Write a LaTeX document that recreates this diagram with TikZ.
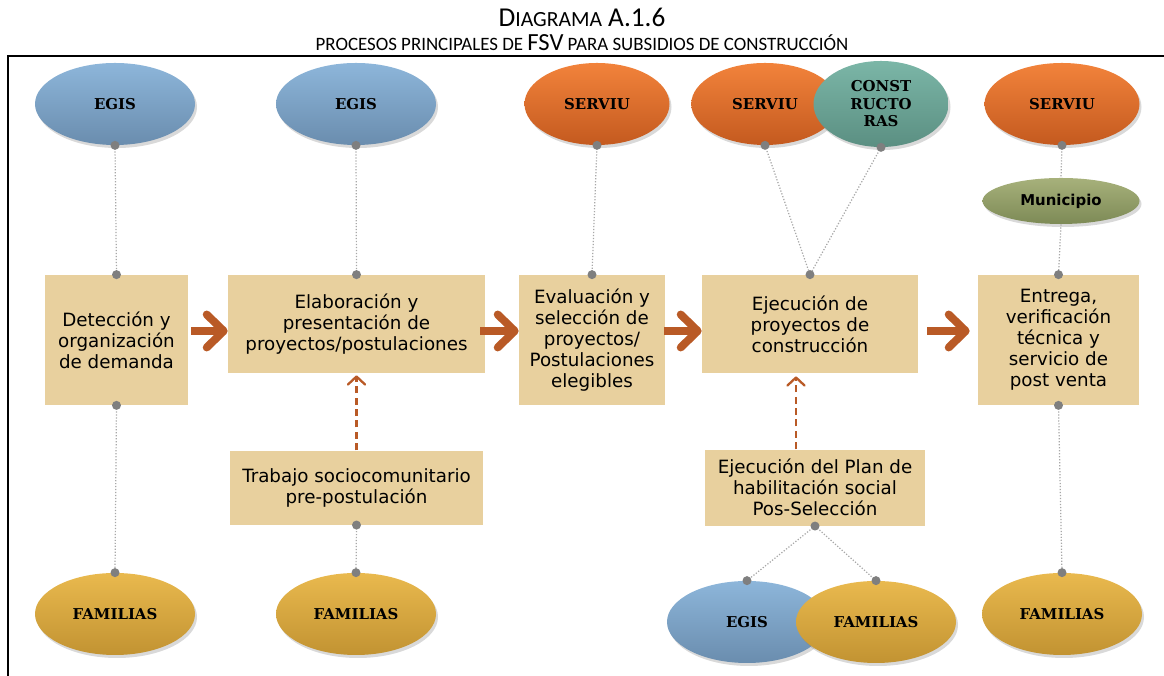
\documentclass[tikz,border=0pt]{standalone}
\usepackage{fontspec}
\setmainfont{DejaVu Sans}
\newfontfamily\labelfont{DejaVu Serif}
\newfontfamily\titlefont{Carlito}
\usepackage{xcolor}
\definecolor{box-tan}{HTML}{E8D09E}
\definecolor{rust}{HTML}{B95A26}
\definecolor{link-gray}{HTML}{A8A8A8}
\definecolor{dot-gray}{HTML}{7F7F7F}
\definecolor{blue-top}{HTML}{8DB6DA}
\definecolor{blue-bot}{HTML}{6A8DAE}
\definecolor{orange-top}{HTML}{F2833B}
\definecolor{orange-bot}{HTML}{C45A1F}
\definecolor{teal-top}{HTML}{7BB6A7}
\definecolor{teal-bot}{HTML}{5B8F82}
\definecolor{gold-top}{HTML}{E9B94E}
\definecolor{gold-bot}{HTML}{C29332}
\definecolor{olive-top}{HTML}{A7B17B}
\definecolor{olive-bot}{HTML}{7D8A56}
\usepackage{tikz}
\usetikzlibrary{positioning}
\usetikzlibrary{shapes.geometric}
\usetikzlibrary{arrows.meta}
\usetikzlibrary{shadows}
\tikzset{box/.style = {fill=box-tan, align=center, text centered, inner sep=2pt, font=\fontsize{10.4}{12}\selectfont}}
\tikzset{actor/.style = {ellipse, minimum width=3.2cm, minimum height=1.64cm, inner sep=0pt, align=center, font=\labelfont\bfseries\fontsize{8.5}{10}\selectfont, drop shadow={opacity=.3, shadow xshift=.04, shadow yshift=-.06}}}
\tikzset{egis/.style = {actor, top color=blue-top, bottom color=blue-bot}}
\tikzset{serviu/.style = {actor, top color=orange-top, bottom color=orange-bot}}
\tikzset{builder/.style = {actor, top color=teal-top, bottom color=teal-bot}}
\tikzset{family/.style = {actor, top color=gold-top, bottom color=gold-bot}}
\tikzset{arr/.style = {line width=4.5pt, draw=rust, -{Straight Barb[round, length=3.4mm, width=6.6mm]}}}
\tikzset{dasharr/.style = {line width=1.3pt, draw=rust, dash pattern=on 4pt off 2.5pt, -{Straight Barb[round, length=1.6mm, width=3.4mm]}}}
\tikzset{link/.style = {draw=link-gray, densely dotted, line width=.7pt}}

\begin{document}
\begin{tikzpicture}
\useasboundingbox (0,0) rectangle (23.28,13.52);

\node (title) at (11.64,13.18) {\titlefont\fontsize{15.5}{18}\selectfont D{\fontsize{12.3}{14}\selectfont IAGRAMA} A.1.6};
\node (subtitle) at (11.64,12.66) {\titlefont\fontsize{10.75}{13}\selectfont PROCESOS PRINCIPALES DE {\fontsize{14}{16}\selectfont FSV} PARA SUBSIDIOS DE CONSTRUCCIÓN};
\draw[line width=1.2pt] (0.16,0) -- (0.16,12.4) -- (23.28,12.4);

% main process row
\node[box, minimum width=2.86cm, minimum height=2.6cm] (b1) at (2.33,6.72) {Detección y\\organización\\de demanda};
\node[box, minimum width=5.14cm, minimum height=1.96cm] (b2) at (7.13,7.04) {Elaboración y\\presentación de\\proyectos/postulaciones};
\node[box, minimum width=2.92cm, minimum height=2.6cm] (b3) at (11.84,6.72) {Evaluación y\\selección de\\proyectos/\\Postulaciones\\elegibles};
\node[box, minimum width=4.32cm, minimum height=1.96cm] (b4) at (16.2,7.04) {Ejecución de\\proyectos de\\construcción};
\node[box, minimum width=3.22cm, minimum height=2.6cm] (b5) at (21.17,6.72) {Entrega,\\verificación\\técnica y\\servicio de\\post venta};
\node[box, minimum width=5.06cm, minimum height=1.48cm, below=1.54cm of b2] (b6) {Trabajo sociocomunitario\\pre-postulación};
\node[box, minimum width=4.4cm, minimum height=1.52cm, below=1.52cm of b4, xshift=.1cm] (b7) {Ejecución del Plan de\\habilitación social\\Pos-Selección};

% actors
\node[egis] (e1) at (2.3,11.44) {EGIS};
\node[egis] (e2) at (7.12,11.44) {EGIS};
\node[serviu, minimum width=2.9cm] (e3) at (11.94,11.44) {SERVIU};
\node[serviu, minimum width=2.95cm] (e4) at (15.3,11.44) {SERVIU};
\node[builder, minimum width=2.7cm, minimum height=1.72cm] (e5) at (17.62,11.44) {CONST\\RUCTO\\RAS};
\node[serviu, minimum width=3.1cm] (e6) at (21.24,11.44) {SERVIU};
\node[actor, top color=olive-top, bottom color=olive-bot, minimum width=3.14cm, minimum height=.92cm, font=\bfseries\fontsize{8.5}{10}\selectfont] (m) at (21.22,9.5) {Municipio};
\node[family] (f1) at (2.3,1.24) {FAMILIAS};
\node[family] (f2) at (7.12,1.24) {FAMILIAS};
\node[egis] (f3) at (14.94,1.08) {EGIS};
\node[family] (f4) at (17.52,1.08) {FAMILIAS};
\node[family] (f5) at (21.24,1.24) {FAMILIAS};

\draw[arr] ([xshift=.06cm]b1.east |- 0,6.9) -- (b2.west |- 0,6.9);
\draw[arr] ([xshift=-.1cm]b2.east |- 0,6.9) -- (b3.west |- 0,6.9);
\draw[arr] ([xshift=-.02cm]b3.east |- 0,6.9) -- (b4.west |- 0,6.9);
\draw[arr] ([xshift=.18cm]b4.east |- 0,6.9) -- ([xshift=-.16cm]b5.west |- 0,6.9);

\draw[dasharr] (b6.north) -- ([yshift=-.04cm]b2.south);
\draw[dasharr] ([xshift=-.38cm]b7.north) -- ([xshift=-.28cm, yshift=-.06cm]b4.south);

\draw[link] (e1.south) -- (b1.north);
\draw[link] (b1.south) -- (f1.north);
\draw[link] (e2.south) -- (b2.north);
\draw[link] (b6.south) -- (f2.north);
\draw[link] (e3.south) -- (b3.north);
\draw[link] (e4.south) -- (b4.north);
\draw[link] (e5.south) -- (b4.north);
\draw[link] (b7.south) -- (f3.north);
\draw[link] (b7.south) -- (f4.north);
\draw[link] (e6.south) -- (m.north);
\draw[link] (m.south) -- (b5.north);
\draw[link] (b5.south) -- (f5.north);

\foreach \p in {e1.south, b1.north, b1.south, f1.north, e2.south, b2.north, b6.south, f2.north, e3.south, b3.north, e4.south, e5.south, b4.north, b7.south, f3.north, f4.north, e6.south, b5.north, b5.south, f5.north}
  \fill[dot-gray] (\p) circle (.09);

\end{tikzpicture}
\end{document}
